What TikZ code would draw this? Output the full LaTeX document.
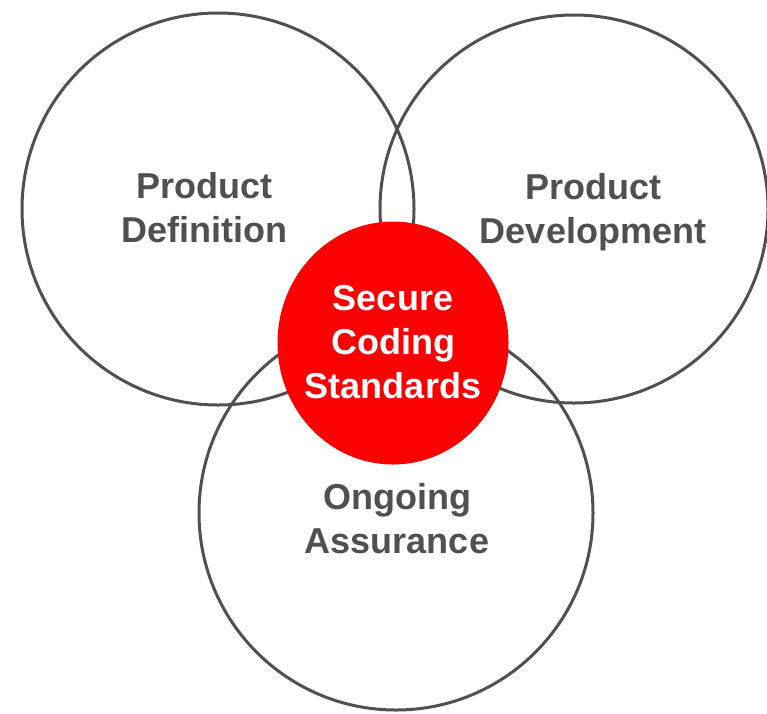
\documentclass[tikz,border=0pt]{standalone}
\usepackage{fontspec}
\setmainfont{Liberation Sans}
\usetikzlibrary{shapes.geometric}
\definecolor{ringgray}{RGB}{80,80,80}
\definecolor{txtgray}{RGB}{80,80,80}
\definecolor{corered}{RGB}{250,0,0}
\begin{document}
\begin{tikzpicture}[x=1pt,y=-1pt,
  ring/.style={draw=ringgray, line width=3pt, circle, inner sep=0pt, outer sep=0pt},
  lbl/.style={font=\fontsize{36}{44}\selectfont\bfseries, text=txtgray, align=center, inner sep=0pt},
  corelbl/.style={font=\fontsize{36}{44}\selectfont\bfseries, text=white, align=center, inner sep=0pt}]
\useasboundingbox (0,0) rectangle (767,713);
\node[ring, minimum size=392pt] (def) at (218,209) {};
\node[ring, minimum size=388pt] (dev) at (574,209) {};
\node[ring, minimum size=394pt] (ass) at (396,513) {};
\node[ellipse, fill=corered, inner sep=0pt, minimum width=231pt, minimum height=243pt] (core) at (393,343) {};
\node[lbl] (tdef) at (204,208) {Product\\Definition};
\node[lbl] (tdev) at (593,212) {Product\\Development};
\node[lbl] (tass) at (397,519) {Ongoing\\Assurance};
\node[corelbl] (tcore) at (393,342) {Secure\\Coding\\Standards};
\end{tikzpicture}
\end{document}
